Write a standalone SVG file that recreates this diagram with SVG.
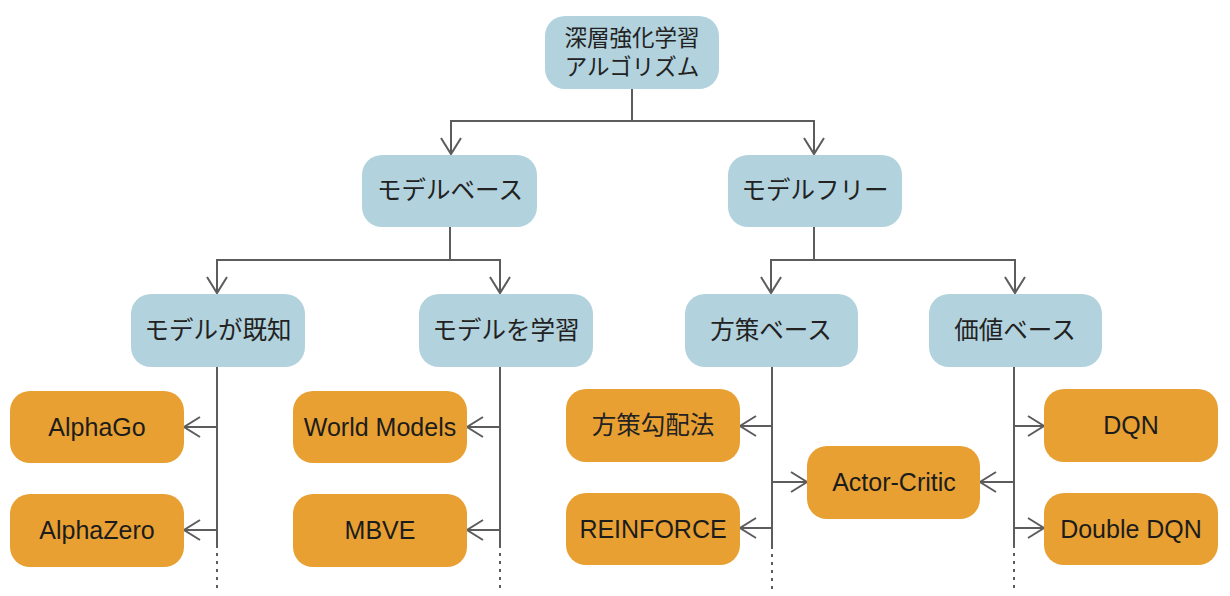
<svg xmlns="http://www.w3.org/2000/svg" width="1230" height="596" viewBox="0 0 1230 596">
<style>
.cat{fill:#b2d2dd}
.leaf{fill:#e8a032}
.jp{font-family:"Noto Sans CJK JP","Liberation Sans",sans-serif;font-size:24.5px;fill:#222;text-anchor:middle}
.en{font-family:"Liberation Sans","Noto Sans CJK JP",sans-serif;font-size:25px;fill:#1c1c1c;text-anchor:middle}
.ln{fill:none;stroke:#5c5c5c;stroke-width:2}
.dot{fill:none;stroke:#5c5c5c;stroke-width:2;stroke-dasharray:3 5}
</style>
<defs>
<marker id="arr" markerUnits="userSpaceOnUse" markerWidth="24" markerHeight="24" viewBox="-18 -12 20 24" refX="0" refY="0" orient="auto">
<path d="M-16,-10 L0,0 L-16,10" fill="none" stroke="#5c5c5c" stroke-width="2"/>
</marker>
</defs>
<rect width="1230" height="596" fill="#fff"/>
<g id="connectors">
<path class="ln" d="M632,89 V121 H451 V154" marker-end="url(#arr)"/>
<path class="ln" d="M632,121 H814 V154" marker-end="url(#arr)"/>
<path class="ln" d="M450,227 V260 H217 V293" marker-end="url(#arr)"/>
<path class="ln" d="M450,260 H500 V293" marker-end="url(#arr)"/>
<path class="ln" d="M814,227 V260 H771 V293" marker-end="url(#arr)"/>
<path class="ln" d="M814,260 H1015 V293" marker-end="url(#arr)"/>
<path class="ln" d="M217,367 V548"/>
<path class="dot" d="M217,553 V590"/>
<path class="ln" d="M217,427 H184" marker-end="url(#arr)"/>
<path class="ln" d="M217,530 H184" marker-end="url(#arr)"/>
<path class="ln" d="M500,367 V548"/>
<path class="dot" d="M500,553 V590"/>
<path class="ln" d="M500,427 H467" marker-end="url(#arr)"/>
<path class="ln" d="M500,530 H467" marker-end="url(#arr)"/>
<path class="ln" d="M772,367 V549"/>
<path class="dot" d="M772,554 V590"/>
<path class="ln" d="M772,426 H740" marker-end="url(#arr)"/>
<path class="ln" d="M772,528 H740" marker-end="url(#arr)"/>
<path class="ln" d="M772,482 H807" marker-end="url(#arr)"/>
<path class="ln" d="M1014,367 V548"/>
<path class="dot" d="M1014,553 V590"/>
<path class="ln" d="M1014,482 H980" marker-end="url(#arr)"/>
<path class="ln" d="M1014,426 H1044" marker-end="url(#arr)"/>
<path class="ln" d="M1014,528 H1044" marker-end="url(#arr)"/>
</g>
<g id="root"><rect class="cat" x="545" y="16" width="174" height="73" rx="20"/><text class="jp" style="font-size:22.5px" x="632" y="46">深層強化学習</text><text class="jp" style="font-size:22.5px" x="632" y="75">アルゴリズム</text></g>
<g id="model-based"><rect class="cat" x="362" y="155" width="175" height="72" rx="20"/><text class="jp" x="450" y="199">モデルベース</text></g>
<g id="model-free"><rect class="cat" x="728" y="155" width="174" height="72" rx="20"/><text class="jp" x="815" y="199">モデルフリー</text></g>
<g id="model-known"><rect class="cat" x="131" y="294" width="174" height="73" rx="20"/><text class="jp" x="218" y="339">モデルが既知</text></g>
<g id="model-learn"><rect class="cat" x="419" y="294" width="174" height="73" rx="20"/><text class="jp" x="506" y="339">モデルを学習</text></g>
<g id="policy-based"><rect class="cat" x="685" y="294" width="173" height="73" rx="20"/><text class="jp" x="771" y="339">方策ベース</text></g>
<g id="value-based"><rect class="cat" x="929" y="294" width="173" height="73" rx="20"/><text class="jp" x="1015" y="339">価値ベース</text></g>
<g id="alphago"><rect class="leaf" x="10" y="391" width="174" height="72" rx="20"/><text class="en" x="97" y="436">AlphaGo</text></g>
<g id="alphazero"><rect class="leaf" x="10" y="494" width="174" height="73" rx="20"/><text class="en" x="97" y="539">AlphaZero</text></g>
<g id="world-models"><rect class="leaf" x="293" y="391" width="174" height="72" rx="20"/><text class="en" x="380" y="436">World Models</text></g>
<g id="mbve"><rect class="leaf" x="293" y="494" width="174" height="73" rx="20"/><text class="en" x="380" y="539">MBVE</text></g>
<g id="policy-gradient"><rect class="leaf" x="566" y="389" width="174" height="73" rx="20"/><text class="jp" x="653" y="434">方策勾配法</text></g>
<g id="reinforce"><rect class="leaf" x="566" y="493" width="174" height="72" rx="20"/><text class="en" x="653" y="538">REINFORCE</text></g>
<g id="actor-critic"><rect class="leaf" x="807" y="446" width="173" height="73" rx="20"/><text class="en" x="894" y="491">Actor-Critic</text></g>
<g id="dqn"><rect class="leaf" x="1044" y="389" width="174" height="73" rx="20"/><text class="en" x="1131" y="434">DQN</text></g>
<g id="double-dqn"><rect class="leaf" x="1044" y="493" width="174" height="72" rx="20"/><text class="en" x="1131" y="538">Double DQN</text></g>
</svg>
